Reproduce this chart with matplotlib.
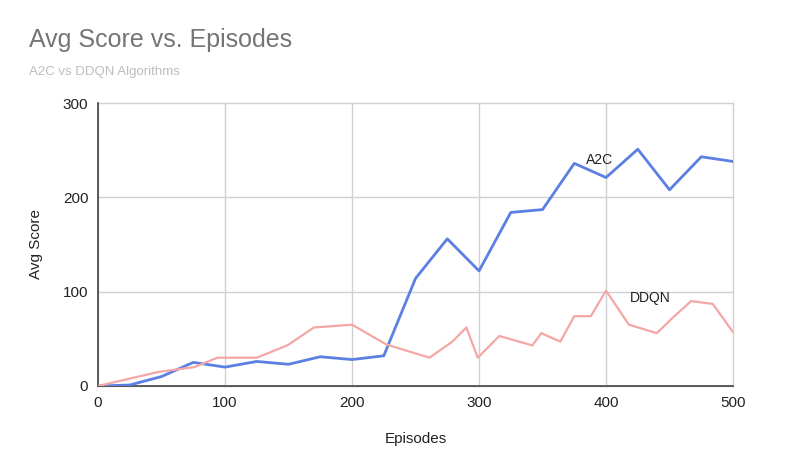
import numpy as np
import matplotlib.pyplot as plt

# A2C, sampled every 25 episodes
a2c_episodes = list(range(0, 501, 25))
a2c_scores = [0, 1, 10, 25, 20, 26, 23, 31, 28, 32, 114, 156, 122, 184, 187,
              236, 221, 251, 208, 243, 238]

# DDQN, irregular episode spacing
ddqn_episodes = [0, 48, 76, 94, 125, 149, 170, 200, 227, 261, 279, 290, 299,
                 316, 342, 349, 364, 375, 388, 400, 418, 440, 453, 467, 484, 500]
ddqn_scores = [0, 15, 20, 30, 30, 43, 62, 65, 44, 30, 47, 62, 30, 53, 43, 56,
               47, 74, 74, 101, 65, 56, 73, 90, 87, 57]

x_ticks = [0, 100, 200, 300, 400, 500]
y_ticks = [0, 100, 200, 300]


def main():
    plt.rcParams['font.family'] = ['Liberation Sans', 'DejaVu Sans']
    fig = plt.figure(figsize=(8.1, 4.74), dpi=100)
    ax = fig.add_axes([0.121, 0.1857, 0.784, 0.597])

    ax.plot(a2c_episodes, a2c_scores, color='#5b7fe3', linewidth=2.0,
            solid_joinstyle='round', zorder=3)
    ax.plot(ddqn_episodes, ddqn_scores, color='#f4a7a5', linewidth=1.6,
            solid_joinstyle='round', zorder=3)

    ax.text(395, 240, 'A2C', fontsize=10, color='#222222', ha='center',
            va='center')
    ax.text(435, 93, 'DDQN', fontsize=10, color='#222222', ha='center',
            va='center')

    ax.set_xlim(0, 500)
    ax.set_ylim(0, 300)
    ax.set_xticks(x_ticks)
    ax.set_yticks(y_ticks)
    ax.tick_params(length=0, labelsize=11, labelcolor='#222222', pad=7)
    ax.grid(color='#d0d0d0', linewidth=1.0)
    ax.set_axisbelow(True)
    for line in ax.get_xgridlines() + ax.get_ygridlines():
        line.set_clip_on(False)

    for side in ['top', 'right']:
        ax.spines[side].set_visible(False)
    for side in ['left', 'bottom']:
        ax.spines[side].set_color('#444444')
        ax.spines[side].set_linewidth(1.2)

    ax.set_xlabel('Episodes', fontsize=11, color='#222222', labelpad=16)
    ax.set_ylabel('Avg Score', fontsize=11, color='#222222', labelpad=14)

    fig.text(0.036, 0.915, 'Avg Score vs. Episodes', fontsize=18,
             color='#757575', va='center')
    fig.text(0.036, 0.848, 'A2C vs DDQN Algorithms', fontsize=9.5,
             color='#bdbdbd', va='center')

    fig.savefig('out.png', dpi=100)


if __name__ == '__main__':
    main()
